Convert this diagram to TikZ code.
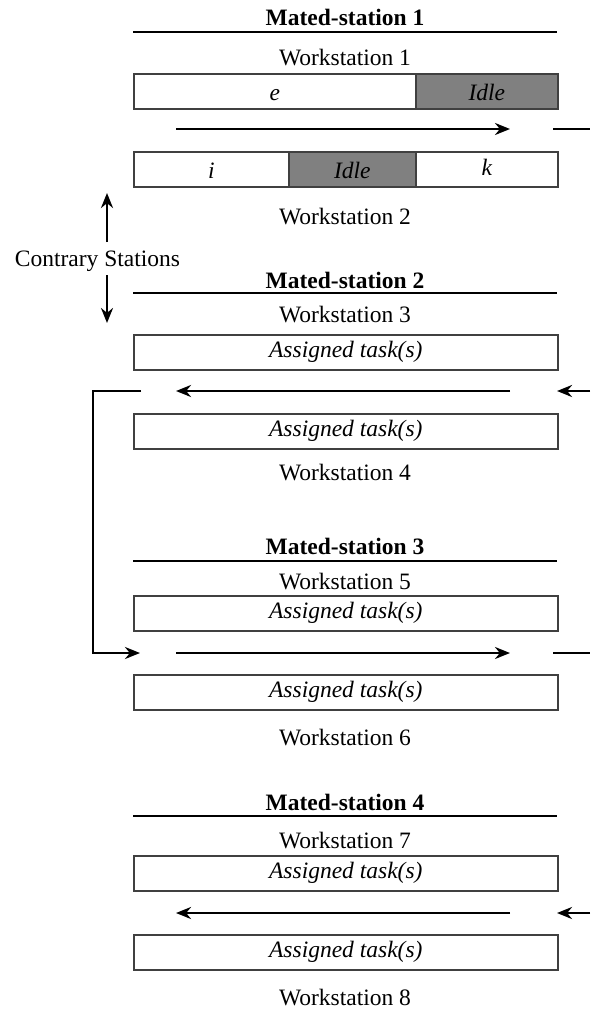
\documentclass[tikz,border=0pt]{standalone}
\usepackage{fontspec}
\setmainfont{Liberation Serif}
\usetikzlibrary{arrows.meta}
\definecolor{boxgray}{HTML}{404040}
\definecolor{idlegray}{HTML}{808080}
\begin{document}
\begin{tikzpicture}[x=1pt,y=-1pt,
  lbl/.style={font=\fontsize{23.5}{27}\selectfont, inner sep=0pt},
  ttl/.style={inner sep=0pt, font=\fontsize{23.5}{27}\selectfont\bfseries},
  cell/.style={draw=boxgray, line width=1.6pt, minimum height=35pt, inner sep=0pt, text height=16pt, text depth=5pt, anchor=north west, font=\fontsize{23.5}{27}\selectfont\itshape},
  low/.style={text height=20pt, text depth=2pt},
  idle/.style={cell, low, fill=idlegray},
  rule/.style={line width=1.6pt},
  flow/.style={line width=2.5pt, -{Stealth[length=15pt,width=12pt]}},
  plain/.style={line width=2.5pt},
]
\useasboundingbox (0,0) rectangle (590,1009);

% Mated-station 1
\node[ttl] (t1) at (345,17) {Mated-station 1};
\coordinate (r1a) at (133,32); \coordinate (r1b) at (557,32);
\draw[rule] (r1a) -- (r1b);
\node[lbl] (w1) at (345,58) {Workstation 1};
\node[cell, low, minimum width=282pt] (b1e) at (133,73) {e};
\node[idle, minimum width=142pt] (b1i) at (415,73) {Idle};
\coordinate (a1s) at (176,129); \coordinate (a1e) at (510,129);
\draw[flow] (a1s) -- (a1e);
\coordinate (f1s) at (553,129); \coordinate (f1e) at (590,129);
\draw[plain] (f1s) -- (f1e);
\node[cell, low, minimum width=155pt] (b2i) at (133,151) {i};
\node[idle, minimum width=127pt] (b2d) at (288,151) {Idle};
\node[cell, text height=17pt, minimum width=142pt] (b2k) at (415,151) {k};
\node[lbl] (w2) at (345,217) {Workstation 2};

% Contrary stations
\node[lbl] (cs) at (97.5,261) {Contrary Stations};
\coordinate (cu1) at (107,242); \coordinate (cu2) at (107,193);
\draw[flow] (cu1) -- (cu2);
\coordinate (cd1) at (107,275); \coordinate (cd2) at (107,323);
\draw[flow] (cd1) -- (cd2);

% Mated-station 2
\node[ttl] (t2) at (345,280) {Mated-station 2};
\coordinate (r2a) at (133,293); \coordinate (r2b) at (557,293);
\draw[rule] (r2a) -- (r2b);
\node[lbl] (w3) at (345,315) {Workstation 3};
\node[cell, minimum width=424pt] (b3) at (133,334) {Assigned task(s)};
\coordinate (a2s) at (510,391); \coordinate (a2e) at (176,391);
\draw[flow] (a2s) -- (a2e);
\coordinate (f2s) at (590,391); \coordinate (f2e) at (557,391);
\draw[flow] (f2s) -- (f2e);
\node[cell, minimum width=424pt] (b4) at (133,413) {Assigned task(s)};
\node[lbl] (w4) at (345,473) {Workstation 4};

% loop back
\coordinate (l1) at (141,391); \coordinate (l2) at (93,391);
\coordinate (l3) at (93,653); \coordinate (l4) at (140,653);
\draw[flow] (l1) -- (l2) -- (l3) -- (l4);

% Mated-station 3
\node[ttl] (t3) at (345,546) {Mated-station 3};
\coordinate (r3a) at (133,561); \coordinate (r3b) at (557,561);
\draw[rule] (r3a) -- (r3b);
\node[lbl] (w5) at (345,582) {Workstation 5};
\node[cell, minimum width=424pt] (b5) at (133,595) {Assigned task(s)};
\coordinate (a3s) at (176,653); \coordinate (a3e) at (510,653);
\draw[flow] (a3s) -- (a3e);
\coordinate (f3s) at (553,653); \coordinate (f3e) at (590,653);
\draw[plain] (f3s) -- (f3e);
\node[cell, minimum width=424pt] (b6) at (133,674) {Assigned task(s)};
\node[lbl] (w6) at (345,738) {Workstation 6};

% Mated-station 4
\node[ttl] (t4) at (345,802) {Mated-station 4};
\coordinate (r4a) at (133,816); \coordinate (r4b) at (557,816);
\draw[rule] (r4a) -- (r4b);
\node[lbl] (w7) at (345,841) {Workstation 7};
\node[cell, minimum width=424pt] (b7) at (133,855) {Assigned task(s)};
\coordinate (a4s) at (510,913); \coordinate (a4e) at (176,913);
\draw[flow] (a4s) -- (a4e);
\coordinate (f4s) at (590,913); \coordinate (f4e) at (557,913);
\draw[flow] (f4s) -- (f4e);
\node[cell, minimum width=424pt] (b8) at (133,934) {Assigned task(s)};
\node[lbl, anchor=base] (w8) at (345,1005) {Workstation 8};
\end{tikzpicture}
\end{document}
